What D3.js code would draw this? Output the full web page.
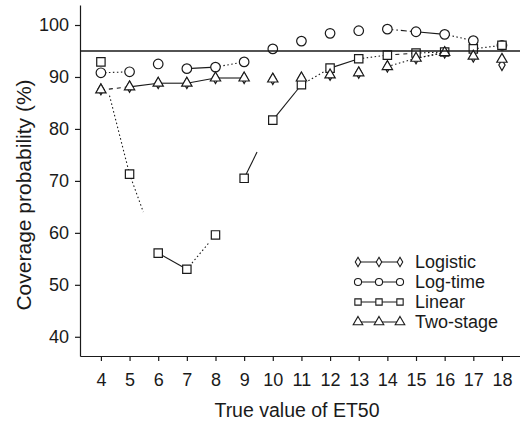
<!DOCTYPE html>
<html>
<head>
<meta charset="utf-8">
<script src="https://cdn.jsdelivr.net/npm/d3@7"></script>
<style>
  body { margin: 0; background: #fff; }
  svg text { font-family: "Liberation Sans", Arial, sans-serif; fill: #1a1a1a; }
</style>
</head>
<body>
<div id="chart"></div>
<script>
var width = 520;
var height = 425;

// true ET50 values on the x axis
var etValues = [4, 5, 6, 7, 8, 9, 10, 11, 12, 13, 14, 15, 16, 17, 18];
var yTicks = [40, 50, 60, 70, 80, 90, 100];
var nominal = 95;

// coverage probability (%) per method
var logistic = [87.6, 88.1, 88.8, 88.8, 89.8, 89.8, 89.6, 89.8, 90.4, 90.8, 92.0, 93.6, 94.7, 93.9, 92.3];
var logTime  = [90.8, 91.0, 92.5, 91.6, 91.9, 92.9, 95.4, 96.9, 98.4, 98.9, 99.2, 98.7, 98.2, 97.0, 96.1];
var linear   = [92.9, 71.3, 56.1, 53.0, 59.6, 70.5, 81.7, 88.5, 91.7, 93.5, 94.2, 94.6, 94.8, 95.4, 96.1];
var twoStage = [87.5, 88.1, 88.8, 88.8, 89.8, 89.8, 89.6, 89.8, 90.4, 90.8, 92.0, 93.6, 94.7, 94.0, 93.4];

var methods = ['Logistic', 'Log-time', 'Linear', 'Two-stage'];
var methodValues = [logistic, logTime, linear, twoStage];

// which neighbouring points are joined in the scan, and how (from, to, dash, t0, t1)
var links = {
  'Logistic': [[15, 16, 'dot']],
  'Log-time': [[4, 5, 'dot'], [7, 8, 'solid'], [8, 9, 'dot'], [14, 15, 'dashdot'], [15, 16, 'solid'], [16, 17, 'dot']],
  'Linear': [[4, 5, 'dot', 0.3, 1], [5, 6, 'dot', 0, 0.48], [6, 7, 'solid'], [7, 8, 'dot', 0, 0.8],
             [9, 10, 'solid', 0, 0.45], [10, 11, 'solid'], [11, 12, 'dot'], [12, 13, 'solid'],
             [13, 14, 'dot'], [14, 15, 'dash'], [15, 16, 'dot'], [17, 18, 'dot']],
  'Two-stage': [[4, 5, 'dash'], [5, 6, 'solid'], [6, 7, 'solid'], [7, 8, 'solid'], [8, 9, 'solid'],
                [14, 15, 'dot'], [15, 16, 'dot']]
};
var dashes = { solid: null, dot: '1.5,2.5', dash: '4,4', dashdot: '6,3,1.5,3' };

var symbols = {
  'Logistic': d3.symbol().type(d3.symbolDiamond).size(34),
  'Log-time': d3.symbol().type(d3.symbolCircle).size(72),
  'Linear': d3.symbol().type(d3.symbolSquare).size(70),
  'Two-stage': d3.symbol().type(d3.symbolTriangle).size(46)
};

var ink = '#1a1a1a';

var svg = d3.select('#chart')
  .append('svg')
    .attr('width', width)
    .attr('height', height);

var x = d3.scaleLinear().domain([3.27, 18.63]).range([80, 520]);
var y = d3.scaleLinear().domain([36.3, 103.85]).range([356, 5]);

// axes
var xAxis = svg.append('g')
  .attr('transform', 'translate(0,356)')
  .call(d3.axisBottom(x).tickValues(etValues).tickSize(5).tickSizeOuter(0).tickPadding(12));
var yAxis = svg.append('g')
  .attr('transform', 'translate(80,0)')
  .call(d3.axisLeft(y).tickValues(yTicks).tickSize(5).tickSizeOuter(0).tickPadding(6));

[xAxis, yAxis].forEach(function(g) {
  g.selectAll('path, line').attr('stroke', ink).attr('stroke-width', 1.2);
  g.selectAll('text').attr('font-size', 18).attr('fill', ink);
});

// connecting segments
methods.forEach(function(m, k) {
  var vals = methodValues[k];
  var segs = links[m].map(function(s) {
    var i = etValues.indexOf(s[0]), j = etValues.indexOf(s[1]);
    var t0 = s.length > 3 ? s[3] : 0, t1 = s.length > 4 ? s[4] : 1;
    var ax = etValues[i], ay = vals[i], bx = etValues[j], by = vals[j];
    return {
      x1: ax + (bx - ax) * t0, y1: ay + (by - ay) * t0,
      x2: ax + (bx - ax) * t1, y2: ay + (by - ay) * t1,
      dash: dashes[s[2]]
    };
  });
  svg.append('g')
    .selectAll('line')
    .data(segs)
    .join('line')
      .attr('x1', d => x(d.x1)).attr('y1', d => y(d.y1))
      .attr('x2', d => x(d.x2)).attr('y2', d => y(d.y2))
      .attr('stroke', ink)
      .attr('stroke-width', 1.1)
      .attr('stroke-dasharray', d => d.dash);
});

// markers
methods.forEach(function(m, k) {
  svg.append('g')
    .selectAll('path')
    .data(etValues.map((e, i) => [e, methodValues[k][i]]))
    .join('path')
      .attr('transform', d => 'translate(' + x(d[0]) + ',' + y(d[1]) + ')')
      .attr('d', symbols[m])
      .attr('fill', m === 'Logistic' ? 'none' : '#fff')
      .attr('stroke', ink)
      .attr('stroke-width', 1.2);
});

// nominal 95% line, drawn over the markers as in the scan
svg.append('line')
  .attr('x1', x.range()[0]).attr('x2', x.range()[1])
  .attr('y1', y(nominal)).attr('y2', y(nominal))
  .attr('stroke', ink).attr('stroke-width', 1.5);

// axis titles
svg.append('text')
  .attr('x', 297).attr('y', 417)
  .attr('text-anchor', 'middle')
  .attr('font-size', 19.5)
  .text('True value of ET50');

svg.append('text')
  .attr('transform', 'translate(31,195) rotate(-90)')
  .attr('text-anchor', 'middle')
  .attr('font-size', 21)
  .text('Coverage probability (%)');

// legend
var legend = svg.append('g').attr('transform', 'translate(358,262)');
var item = legend.selectAll('g')
  .data(methods)
  .join('g')
    .attr('transform', (d, i) => 'translate(0,' + i * 20 + ')');
item.append('line')
  .attr('x1', 0).attr('x2', 42)
  .attr('stroke', ink).attr('stroke-width', 1.1);
item.selectAll('path')
  .data(d => [0, 21, 42].map(p => [p, d]))
  .join('path')
    .attr('transform', d => 'translate(' + d[0] + ',0)')
    .attr('d', d => symbols[d[1]].size(d[1] === 'Logistic' ? 26 : 40)())
    .attr('fill', '#fff')
    .attr('stroke', ink)
    .attr('stroke-width', 1.1);
item.append('text')
  .attr('x', 57).attr('dy', '0.35em')
  .attr('font-size', 18)
  .text(d => d);
</script>
</body>
</html>
